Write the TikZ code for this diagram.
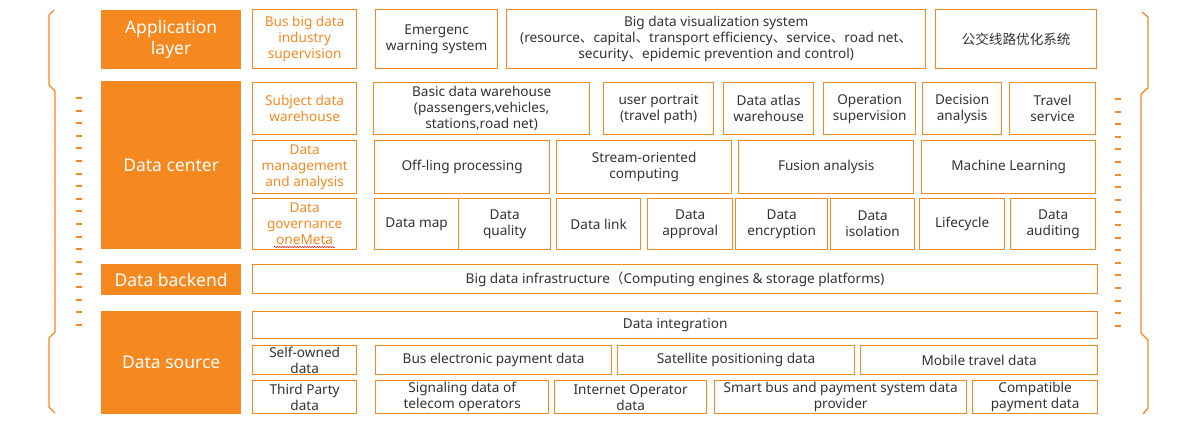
\documentclass[tikz,border=0pt]{standalone}
\usepackage{fontspec}
\setmainfont{Noto Sans}
\newfontfamily\cjk{Noto Sans CJK SC}
\usetikzlibrary{decorations.pathmorphing}
\definecolor{org}{RGB}{246,136,32}
\definecolor{txt}{RGB}{50,50,50}
\newcommand\dun{{\cjk 、}}
\newcommand\mybox[7][box]{\node[#1, anchor=north west, minimum width={#5pt-#3pt}, minimum height={#6pt-#4pt}] (#2) at (#3,#4) {#7};}
\begin{document}
\begin{tikzpicture}[x=1pt,y=-1pt,
  box/.style={draw=org, line width=1.3pt, inner sep=0pt, align=center, text=txt, font=\fontsize{13.6}{16}\selectfont},
  obox/.style={box, text=org},
  lbl/.style={box, fill=org, text=white, font=\fontsize{17.5}{21}\selectfont},
  brk/.style={draw=org, line width=1.3pt},
  dsh/.style={draw=org, line width=2pt}]
\useasboundingbox (0,0) rectangle (1200,428);

% brackets
\draw[brk] (54,10) -- (49,15) -- (49,85) -- (55,91) -- (55,332) -- (49,338) -- (49,407) -- (55,413);
\draw[brk] (1142,12) -- (1148,17) -- (1148,88) -- (1141,94) -- (1141,333) -- (1148,340) -- (1148,408) -- (1143,414);
\foreach \i in {0,...,18} {
  \draw[dsh] (76,{98+12.6*\i}) -- (82,{98+12.6*\i});
  \draw[dsh] (1115,{99+12.6*\i}) -- (1121,{99+12.6*\i});
}

% layer labels
\mybox[lbl]{app}{101}{10}{240}{68}{Application\\layer}
\mybox[lbl]{dc}{101}{81}{240}{248}{Data center}
\mybox[lbl]{db}{101}{264}{240}{294}{Data backend}
\mybox[lbl]{ds}{101}{311}{240}{413}{Data source}

% application layer
\mybox[obox]{a1}{252}{9}{356}{68}{Bus big data\\industry\\supervision}
\mybox{a2}{375}{9}{497}{68}{Emergenc\\warning system}
\mybox{a3}{506}{9}{925}{68}{Big data visualization system\\(resource\dun capital\dun transport efficiency\dun service\dun road net\dun\\security\dun epidemic prevention and control)}
\mybox{a4}{935}{9}{1096}{68}{\cjk 公交线路优化系统}

% data center row 1
\mybox[obox]{c1}{252}{82}{356}{134}{Subject data\\warehouse}
\mybox{c2}{373}{82}{589}{134}{Basic data warehouse\\(passengers,vehicles,\\stations,road net)}
\mybox{c3}{603}{82}{713}{134}{user portrait\\(travel path)}
\mybox{c4}{723}{82}{813}{134}{Data atlas\\warehouse}
\mybox{c5}{823}{82}{915}{134}{Operation\\supervision}
\mybox{c6}{922}{82}{1001}{134}{Decision\\analysis}
\mybox{c7}{1009}{82}{1095}{134}{Travel\\service}

% data center row 2
\mybox[obox]{m1}{252}{140}{356}{193}{Data\\management\\and analysis}
\mybox{m2}{374}{140}{549}{193}{Off-ling processing}
\mybox{m3}{556}{140}{731}{193}{Stream-oriented\\computing}
\mybox{m4}{738}{140}{913}{193}{Fusion analysis}
\mybox{m5}{921}{140}{1095}{193}{Machine Learning}

% data center row 3
\mybox[obox]{g1}{252}{198}{356}{249}{Data\\governance\\oneMeta}
\mybox{g2}{374}{198}{458}{249}{Data map}
\mybox{g3}{458}{198}{550}{249}{Data\\quality}
\mybox{g4}{556}{198}{640}{249}{Data link}
\mybox{g5}{647}{198}{732}{249}{Data\\approval}
\mybox{g6}{735}{198}{827}{249}{Data\\encryption}
\mybox{g7}{830}{198}{914}{249}{Data\\isolation}
\mybox{g8}{919}{198}{1004}{249}{Lifecycle}
\mybox{g9}{1010}{198}{1095}{249}{Data\\auditing}
\draw[red!80!black, line width=0.5pt, decorate, decoration={snake, amplitude=0.6pt, segment length=2.5pt}] (274,247) -- (335,247);

% data backend
\mybox{b1}{252}{264}{1097}{293}{Big data infrastructure{\cjk （}Computing engines \& storage platforms)}

% data source
\mybox{s0}{252}{311}{1097}{338}{Data integration}
\mybox{s1}{252}{345}{356}{374}{Self-owned\\data}
\mybox{s2}{375}{345}{611}{374}{Bus electronic payment data}
\mybox{s3}{617}{345}{854}{374}{Satellite positioning data}
\mybox{s4}{860}{345}{1097}{374}{Mobile travel data}
\mybox{t1}{252}{380}{356}{413}{Third Party\\data}
\mybox{t2}{375}{380}{548}{413}{Signaling data of\\telecom operators}
\mybox{t3}{554}{380}{706}{413}{Internet Operator\\data}
\mybox{t4}{714}{380}{966}{413}{Smart bus and payment system data\\provider}
\mybox{t5}{972}{380}{1097}{413}{Compatible\\payment data}
\end{tikzpicture}
\end{document}
